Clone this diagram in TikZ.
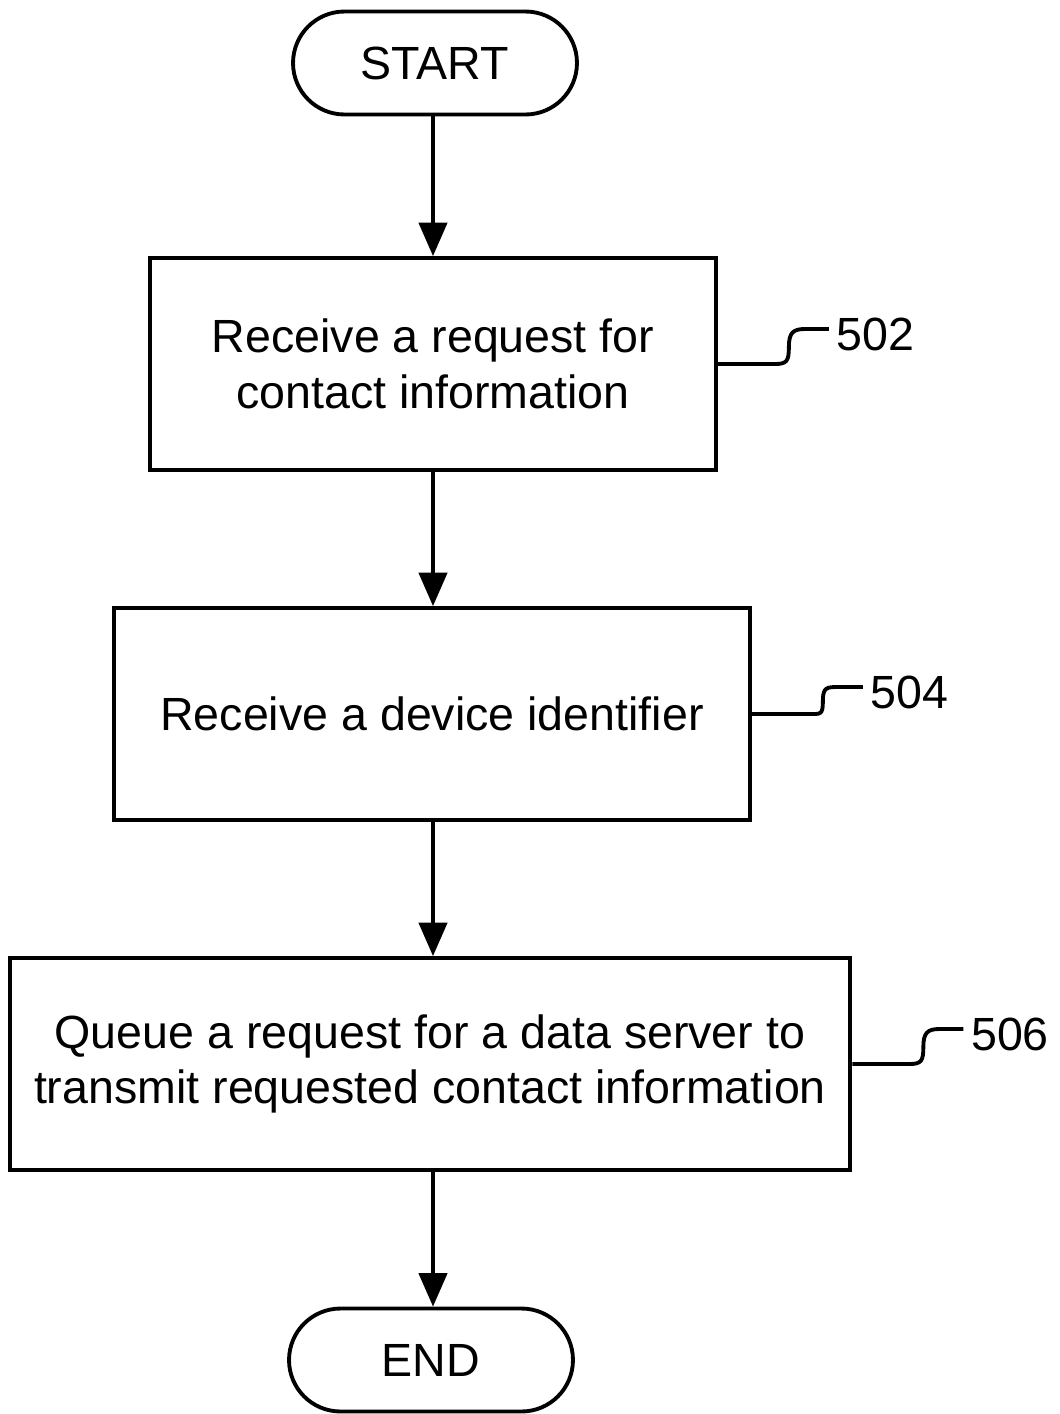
\documentclass[tikz,border=0pt]{standalone}
\usepackage{fontspec}
\setmainfont{Liberation Sans}
\usepackage{tikz}
\usetikzlibrary{arrows.meta}
\usetikzlibrary{positioning}
\tikzset{flow/.style = {-{Triangle[width=16pt, length=19pt]}}}
\tikzset{stepbox/.style = {draw, rectangle, minimum height = 4.24cm, align = center,
                           inner sep = 0}}
\tikzset{term/.style = {draw, rectangle, rounded corners = 1.03cm,
                        minimum width = 5.68cm, minimum height = 2.06cm}}
\tikzset{lbl/.style = {right, yshift = -3pt}}

\begin{document}
\begin{tikzpicture}[x=0.02cm, y=0.02cm, line width=2.2pt,
    font=\fontsize{26.5}{31.5}\selectfont]
    \useasboundingbox (0, 0) rectangle (1059, -1414);

    \node [term] (start) at (435, -63) {START};
    \node [stepbox, minimum width = 11.32cm] (recv) at (433, -364)
          {Receive a request for\\contact information};
    \node [stepbox, minimum width = 12.72cm] (devid) at (432, -714)
          {Receive a device identifier};
    \node [stepbox, minimum width = 16.82cm] (queue) at (430, -1064)
          {Queue a request for a data server to\\transmit requested contact information};
    \node [term] (end) at (431, -1360) {END};

    \draw [flow] (start.south -| recv.north) -- (recv.north);
    \draw [flow] (recv.south) -- (recv.south |- devid.north);
    \draw [flow] (recv.south |- devid.south) -- (recv.south |- queue.north);
    \draw [flow] (recv.south |- queue.south) -- (recv.south |- end.north);

    % reference numerals
    \draw (recv.east) -- ++(57, 0) .. controls +(12, 0) and +(0, -14) .. ++(14, 17)
          .. controls +(0, 14) and +(-12, 0) .. ++(16, 18) -- ++(24, 0)
          node [lbl] (n502) {502};
    \draw (devid.east) -- ++(57, 0) .. controls +(12, 0) and +(0, -14) .. ++(14, 13)
          .. controls +(0, 14) and +(-12, 0) .. ++(16, 14) -- ++(24, 0)
          node [lbl] (n504) {504};
    \draw (queue.east) -- ++(57, 0) .. controls +(12, 0) and +(0, -14) .. ++(14, 17)
          .. controls +(0, 14) and +(-12, 0) .. ++(16, 18) -- ++(24, 0)
          node [lbl] (n506) {506};
\end{tikzpicture}
\end{document}
